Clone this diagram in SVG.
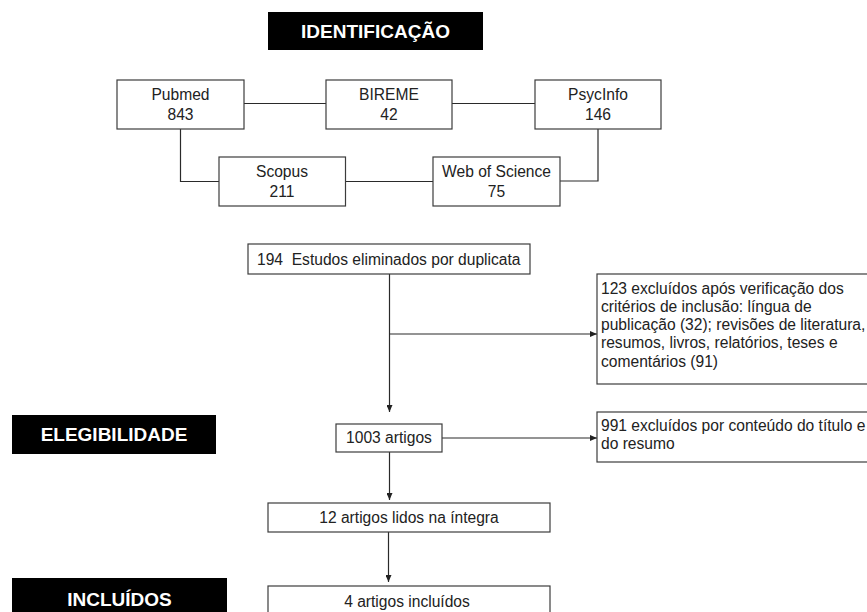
<svg xmlns="http://www.w3.org/2000/svg" width="867" height="612" viewBox="0 0 867 612">
<defs>
<style>
.box{fill:#fff;stroke:#3c3c3c;stroke-width:1.2}
.hd{fill:#000}
.t{font-family:"Liberation Sans",Arial,sans-serif;font-size:15.6px;fill:#222}
.c{text-anchor:middle}
.ht{font-family:"Liberation Sans",Arial,sans-serif;font-size:19px;font-weight:bold;fill:#fff;text-anchor:middle}
.ln{fill:none;stroke:#2a2a2a;stroke-width:1.2}
</style>
<marker id="ah" viewBox="0 0 7 6" refX="7" refY="3" markerWidth="7" markerHeight="6" markerUnits="userSpaceOnUse" orient="auto">
<path d="M0,0 L7,3 L0,6 z" fill="#222"/>
</marker>
</defs>
<rect width="867" height="612" fill="#fff"/>

<g id="h-identificacao">
<rect class="hd" x="268" y="12" width="215" height="38"/>
<text class="ht" x="375.5" y="38">IDENTIFICAÇÃO</text>
</g>
<g id="h-elegibilidade">
<rect class="hd" x="12" y="415" width="204" height="39"/>
<text class="ht" x="114" y="440.5">ELEGIBILIDADE</text>
</g>
<g id="h-incluidos">
<rect class="hd" x="12" y="578" width="215" height="40"/>
<text class="ht" x="119.5" y="605.5">INCLUÍDOS</text>
</g>

<g id="connectors">
<path class="ln" d="M244,103.5 H326"/>
<path class="ln" d="M452,103.5 H535"/>
<path class="ln" d="M180.5,129 V181.5 H219"/>
<path class="ln" d="M345.5,181.5 H433"/>
<path class="ln" d="M560,181 H598 V129"/>
<path class="ln" d="M389.5,274 V412" marker-end="url(#ah)"/>
<path class="ln" d="M389.5,334 H597" marker-end="url(#ah)"/>
<path class="ln" d="M442,438 H597" marker-end="url(#ah)"/>
<path class="ln" d="M389.5,452 V500" marker-end="url(#ah)"/>
<path class="ln" d="M388.5,532 V582" marker-end="url(#ah)"/>
</g>

<g id="pubmed">
<rect class="box" x="117" y="80" width="127" height="49"/>
<text class="t c" x="180.5" y="100">Pubmed</text>
<text class="t c" x="180.5" y="120">843</text>
</g>
<g id="bireme">
<rect class="box" x="326" y="80" width="126" height="49"/>
<text class="t c" x="389" y="100">BIREME</text>
<text class="t c" x="389" y="120">42</text>
</g>
<g id="psycinfo">
<rect class="box" x="535" y="80" width="126" height="49"/>
<text class="t c" x="598" y="100">PsycInfo</text>
<text class="t c" x="598" y="120">146</text>
</g>
<g id="scopus">
<rect class="box" x="219" y="157" width="126.5" height="49"/>
<text class="t c" x="282" y="177">Scopus</text>
<text class="t c" x="282" y="197">211</text>
</g>
<g id="webofscience">
<rect class="box" x="433" y="157" width="127" height="49"/>
<text class="t c" x="496.5" y="177">Web of Science</text>
<text class="t c" x="496.5" y="197">75</text>
</g>

<g id="duplicatas">
<rect class="box" x="248" y="244" width="282" height="30"/>
<text class="t" x="257" y="264.5" xml:space="preserve">194  Estudos eliminados por duplicata</text>
</g>
<g id="excluidos-criterios">
<rect class="box" x="597" y="274" width="280" height="110"/>
<text class="t" x="601" y="293.5">123 excluídos após verificação dos</text>
<text class="t" x="601" y="311.8">critérios de inclusão: língua de</text>
<text class="t" x="601" y="330.1">publicação (32); revisões de literatura,</text>
<text class="t" x="601" y="348.4">resumos, livros, relatórios, teses e</text>
<text class="t" x="601" y="366.7">comentários (91)</text>
</g>
<g id="artigos-1003">
<rect class="box" x="336" y="424" width="106" height="28"/>
<text class="t c" x="389" y="443">1003 artigos</text>
</g>
<g id="excluidos-titulo">
<rect class="box" x="597" y="412" width="280" height="50"/>
<text class="t" x="601" y="431">991 excluídos por conteúdo do título e</text>
<text class="t" x="601" y="449">do resumo</text>
</g>
<g id="artigos-12">
<rect class="box" x="268" y="503" width="282" height="29"/>
<text class="t c" x="409" y="522.5">12 artigos lidos na íntegra</text>
</g>
<g id="artigos-4">
<rect class="box" x="268" y="586" width="282" height="40"/>
<text class="t c" x="407" y="606.5">4 artigos incluídos</text>
</g>
</svg>
